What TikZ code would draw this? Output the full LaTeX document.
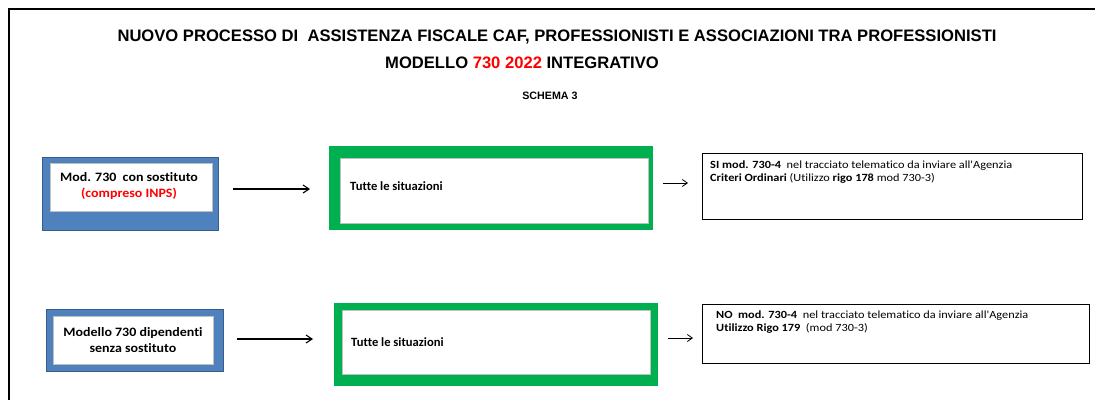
\documentclass[tikz,border=0pt]{standalone}
\usepackage{fontspec}
\setmainfont{Carlito}[Ligatures=NoCommon]
\newfontfamily\titlefont{Liberation Sans}
\newfontfamily\bluefont[FakeStretch=1.09,Ligatures=NoCommon]{Carlito}
\newfontfamily\smallfont[FakeStretch=1.12,Ligatures=NoCommon]{Carlito}
\usetikzlibrary{arrows.meta,calc}
\definecolor{bluefill}{HTML}{4F81BD}
\definecolor{blueedge}{HTML}{385D8A}
\definecolor{innergray}{HTML}{BFBFBF}
\definecolor{greenfill}{HTML}{00B050}
\definecolor{redtxt}{HTML}{FF0000}
\tikzset{
  box/.style={rectangle, inner sep=0pt, outer sep=0pt},
  blueouter/.style={box, fill=bluefill, draw=blueedge, line width=0.8pt},
  greenouter/.style={box, fill=greenfill},
  innerwhite/.style={box, fill=white, draw=innergray, line width=0.8pt},
  textbox/.style={box, draw=black, line width=0.9pt, fill=white},
  arr/.style={-{Straight Barb[length=6pt,width=8pt]}, line width=1.1pt},
  arrsmall/.style={-{Straight Barb[length=5pt,width=7pt]}, line width=0.8pt},
  bluetext/.style={font=\bluefont\bfseries\fontsize{12.8}{15.5}\selectfont, align=center, inner sep=0pt},
  greentext/.style={font=\bfseries\fontsize{12.6}{15}\selectfont, anchor=west, inner sep=0pt},
  smalltext/.style={font=\smallfont\fontsize{11}{13}\selectfont, anchor=north west, align=left, inner sep=0pt},
  titletext/.style={font=\titlefont\bfseries\fontsize{16.6}{19}\selectfont, inner sep=0pt}
}
\begin{document}
\begin{tikzpicture}[x=1pt,y=-1pt]
\useasboundingbox (0,0) rectangle (1095,400);
\fill[white] (0,0) rectangle (1095,400);
% frame
\draw[line width=1.4pt] (9,400) -- (9,9) -- (1095,9);
% titles
\node[titletext] (title1) at (557,37) {NUOVO PROCESSO DI\ \ ASSISTENZA FISCALE CAF, PROFESSIONISTI E ASSOCIAZIONI TRA PROFESSIONISTI};
\node[titletext] (title2) at (522,63) {MODELLO \textcolor{redtxt}{730 2022} INTEGRATIVO};
\node[font=\titlefont\bfseries\fontsize{10.7}{12}\selectfont, inner sep=0pt] (schema) at (550,95.5) {SCHEMA 3};
% row 1
\node[blueouter, minimum width=176pt, minimum height=73pt] (b1o) at (130,193.5) {};
\node[innerwhite, minimum width=162pt, minimum height=48pt] (b1) at (131,187) {};
\node[bluetext] (b1t) at (129,186) {Mod. 730\ \ con sostituto\\\textcolor{redtxt}{(compreso INPS)}};
\node[greenouter, minimum width=324pt, minimum height=84pt] (g1o) at (491,188) {};
\node[innerwhite, minimum width=308pt, minimum height=65pt] (g1) at (494,190.5) {};
\node[greentext] (g1t) at (350,186) {Tutte le situazioni};
\node[textbox, minimum width=380pt, minimum height=66pt] (t1) at (892,186) {};
\node[smalltext] (t1t) at (710,161) {\textbf{SI mod. 730-4}\ \ nel tracciato telematico da inviare all'Agenzia\\\textbf{Criteri Ordinari} (Utilizzo \textbf{rigo 178} mod 730-3)};
% row 2
\node[blueouter, minimum width=177pt, minimum height=62pt] (b2o) at (134.5,340) {};
\node[innerwhite, minimum width=160pt, minimum height=48pt] (b2) at (133,340) {};
\node[bluetext] (b2t) at (133,340) {Modello 730 dipendenti\\senza sostituto};
\node[greenouter, minimum width=324pt, minimum height=83pt] (g2o) at (496,344.5) {};
\node[innerwhite, minimum width=308pt, minimum height=64pt] (g2) at (496,342) {};
\node[greentext] (g2t) at (351,342) {Tutte le situazioni};
\node[textbox, minimum width=387pt, minimum height=59pt] (t2) at (895.5,333.5) {};
\node[smalltext] (t2t) at (716,311) {\textbf{NO\ \ mod. 730-4}\ \ nel tracciato telematico da inviare all'Agenzia\\\textbf{Utilizzo Rigo 179}\ \ (mod 730-3)};
% arrows
\draw[arr] ($(b1o.east |- g1o.west)+(15,1)$) -- ($(g1o.west)+(-19,1)$);
\draw[arrsmall] ($(g1o.east)+(10,-5)$) -- ($(g1o.east -| t1.west)+(-14,-5)$);
\draw[arr] ($(b2o.east)+(14,-1)$) -- ($(b2o.east -| g2o.west)+(-21,-1)$);
\draw[arrsmall] ($(g2o.east)+(10,-6.5)$) -- ($(g2o.east -| t2.west)+(-9,-6.5)$);
\end{tikzpicture}
\end{document}
